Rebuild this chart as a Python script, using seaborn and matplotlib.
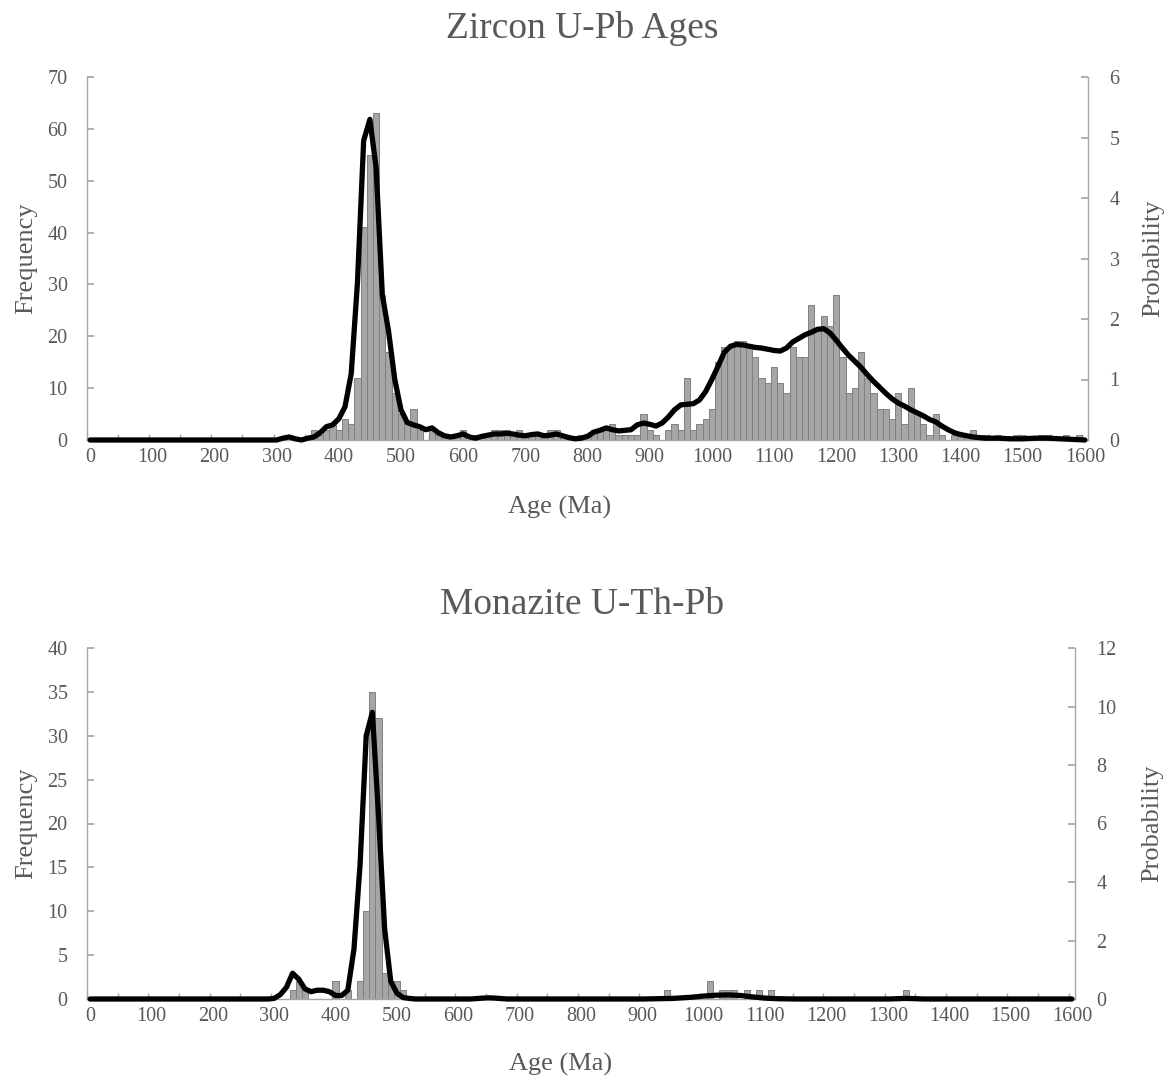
import numpy as np
import pandas as pd
import matplotlib
matplotlib.use("Agg")
import matplotlib.pyplot as plt
import seaborn as sns

# ---------------- data ----------------
# Zircon U-Pb: histogram counts per 10 Ma bin (bin centre ages)
zircon_bin_age = [360, 370, 380, 390, 400, 410, 420, 430, 440, 450, 460, 470, 480, 490, 500,
                  510, 520, 530, 550, 560, 570, 580, 590, 600, 620, 630, 640, 650, 660, 670,
                  680, 690, 700, 710, 720, 730, 740, 750, 760, 790, 800, 810, 820, 830, 840,
                  850, 860, 870, 880, 890, 900, 910, 930, 940, 950, 960, 970, 980, 990, 1000,
                  1010, 1020, 1030, 1040, 1050, 1060, 1070, 1080, 1090, 1100, 1110, 1120, 1130,
                  1140, 1150, 1160, 1170, 1180, 1190, 1200, 1210, 1220, 1230, 1240, 1250, 1260,
                  1270, 1280, 1290, 1300, 1310, 1320, 1330, 1340, 1350, 1360, 1370, 1390, 1400,
                  1410, 1420, 1440, 1460, 1490, 1500, 1530, 1540, 1570, 1590]
zircon_count = [2, 1, 2, 3, 2, 4, 3, 12, 41, 55, 63, 28, 17, 9, 5,
                3, 6, 2, 2, 1, 1, 1, 1, 2, 1, 1, 1, 2, 2, 2,
                1, 2, 1, 1, 1, 1, 2, 2, 1, 1, 1, 2, 2, 2, 3,
                1, 1, 1, 1, 5, 2, 1, 2, 3, 2, 12, 2, 3, 4, 6,
                15, 18, 18, 19, 19, 18, 16, 12, 11, 14, 11, 9, 18,
                16, 16, 26, 21, 24, 22, 28, 16, 9, 10, 17, 12, 9,
                6, 6, 4, 9, 3, 10, 5, 3, 1, 5, 1, 1, 1,
                1, 2, 1, 1, 1, 1, 1, 1, 1, 1]

# Zircon probability density curve
zircon_curve_age = [0, 290, 300, 310, 320, 330, 340, 350, 360, 370, 380, 390, 400, 410, 420,
                    430, 440, 450, 460, 470, 480, 490, 500, 510, 520, 530, 540, 550, 560, 570,
                    580, 590, 600, 610, 620, 630, 640, 650, 660, 670, 680, 690, 700, 710, 720,
                    730, 740, 750, 760, 770, 780, 790, 800, 810, 820, 830, 840, 850, 860, 870,
                    880, 890, 900, 910, 920, 930, 940, 950, 960, 970, 980, 990, 1000, 1010,
                    1020, 1030, 1040, 1050, 1060, 1070, 1080, 1090, 1100, 1110, 1120, 1130,
                    1140, 1150, 1160, 1170, 1180, 1190, 1200, 1210, 1220, 1230, 1240, 1250,
                    1260, 1270, 1280, 1290, 1300, 1310, 1320, 1330, 1340, 1350, 1360, 1370,
                    1380, 1390, 1400, 1410, 1420, 1430, 1440, 1460, 1480, 1500, 1520, 1540,
                    1560, 1580, 1600]
zircon_prob = [0.0, 0.0, 0.0, 0.03, 0.05, 0.02, 0.0, 0.03, 0.05, 0.12, 0.22, 0.25, 0.35, 0.55, 1.1,
               2.6, 4.95, 5.3, 4.5, 2.4, 1.8, 1.0, 0.5, 0.29, 0.25, 0.22, 0.17, 0.2, 0.12, 0.07,
               0.05, 0.07, 0.1, 0.05, 0.03, 0.06, 0.08, 0.1, 0.1, 0.11, 0.1, 0.08, 0.07, 0.09, 0.1,
               0.07, 0.08, 0.1, 0.07, 0.04, 0.02, 0.03, 0.06, 0.13, 0.16, 0.2, 0.17, 0.15, 0.16, 0.17,
               0.25, 0.28, 0.26, 0.23, 0.28, 0.38, 0.5, 0.58, 0.59, 0.6, 0.66, 0.8, 1.0, 1.22,
               1.45, 1.55, 1.58, 1.57, 1.55, 1.53, 1.52, 1.5, 1.48, 1.47, 1.52, 1.62,
               1.68, 1.74, 1.78, 1.83, 1.84, 1.77, 1.65, 1.52, 1.4, 1.3, 1.2, 1.08,
               0.97, 0.87, 0.77, 0.68, 0.61, 0.56, 0.5, 0.45, 0.4, 0.34, 0.3, 0.23,
               0.17, 0.12, 0.09, 0.07, 0.05, 0.04, 0.03, 0.03, 0.02, 0.02, 0.03, 0.03,
               0.02, 0.01, 0.0]

# Monazite U-Th-Pb: histogram counts per 10 Ma bin
monazite_bin_age = [330, 340, 350, 400, 420, 440, 450, 460, 470, 480, 490, 500, 510,
                    940, 1010, 1030, 1040, 1050, 1070, 1090, 1110, 1330]
monazite_count = [1, 2, 1, 2, 1, 2, 10, 35, 32, 3, 2, 2, 1,
                  1, 2, 1, 1, 1, 1, 1, 1, 1]

# Monazite probability density curve
monazite_curve_age = [0, 290, 300, 310, 320, 330, 340, 350, 360, 370, 380, 390, 400, 410, 420,
                      430, 440, 450, 460, 470, 480, 490, 500, 510, 520, 530, 620, 640, 650, 660,
                      680, 900, 950, 980, 1000, 1020, 1040, 1060, 1080, 1100, 1120, 1150, 1300,
                      1330, 1360, 1600]
monazite_prob = [0.0, 0.0, 0.02, 0.15, 0.4, 0.88, 0.68, 0.35, 0.25, 0.3, 0.3, 0.25, 0.12, 0.12, 0.3,
                 1.7, 4.6, 9.0, 9.8, 6.3, 2.4, 0.6, 0.2, 0.05, 0.02, 0.0, 0.0, 0.03, 0.04, 0.03,
                 0.0, 0.0, 0.02, 0.06, 0.1, 0.13, 0.14, 0.12, 0.07, 0.03, 0.01, 0.0, 0.0,
                 0.02, 0.0, 0.0]

age_ticks = list(range(0, 1601, 100))

# ---------------- style ----------------
sns.set_theme(style="white")
plt.rcParams["font.family"] = ["Liberation Serif", "DejaVu Serif"]
TXT = "#595959"
BAR = "#A6A6A6"
EDGE = "#808080"
AXC = "#A6A6A6"
TICKFS = 14.5

W, H = 1165, 1082
fig = plt.figure(figsize=(W / 100, H / 100), dpi=100)


def panel(rect, ages, counts, cx, cy, ymax, ystep, pmax, pstep, title, title_y,
          xlab_x, plab_x):
    ax = fig.add_axes(rect)
    hist_df = pd.DataFrame({"age": ages, "count": counts})
    sns.histplot(data=hist_df, x="age", weights="count", binwidth=10,
                 binrange=(-5, 1605), ax=ax, color=BAR,
                 edgecolor=EDGE, linewidth=0.7, alpha=1.0)
    ax.set_xlim(-5, 1605)
    ax.set_ylim(0, ymax)
    ax.set_yticks(range(0, ymax + 1, ystep))
    ax.set_xticks(age_ticks)
    ax.set_xticks(np.arange(-5, 1606, 50), minor=True)
    ax.tick_params(axis="x", which="major", length=0, labelsize=TICKFS, labelcolor=TXT, pad=6)
    ax.tick_params(axis="x", which="minor", length=4, direction="in", color=AXC, width=1,
                   bottom=True)
    ax.tick_params(axis="y", length=5, direction="in", color=AXC, labelsize=TICKFS,
                   labelcolor=TXT, pad=14, left=True)
    ax.set_xlabel("Age (Ma)", fontsize=19, color=TXT)
    ax.set_ylabel("Frequency", fontsize=19, color=TXT)
    ax.xaxis.set_label_coords(xlab_x, -0.155)
    ax.yaxis.set_label_coords(-0.05, 0.5)
    for s in ["top", "right"]:
        ax.spines[s].set_visible(False)
    for s in ["left", "bottom"]:
        ax.spines[s].set_color(AXC)
        ax.spines[s].set_linewidth(1)

    ax2 = ax.twinx()
    curve_df = pd.DataFrame({"age": cx, "prob": cy})
    sns.lineplot(data=curve_df, x="age", y="prob", ax=ax2, color="black", linewidth=3.8,
                 estimator=None, sort=False, clip_on=False)
    ax2.set_ylim(0, pmax)
    pt = list(range(0, pmax + 1, pstep))
    ax2.set_yticks(pt)
    ax2.set_yticklabels([str(v) for v in pt])
    ax2.tick_params(axis="y", length=5, direction="in", color=AXC, labelsize=TICKFS,
                    labelcolor=TXT, pad=15.5, right=True)
    ax2.set_ylabel("Probability", fontsize=19, color=TXT)
    ax2.yaxis.set_label_position("right")
    ax2.yaxis.set_label_coords(plab_x, 0.5)
    for s in ["top", "left", "bottom"]:
        ax2.spines[s].set_visible(False)
    ax2.spines["right"].set_color(AXC)
    ax2.spines["right"].set_linewidth(1)
    ax2.set_xlim(-5, 1605)

    fig.text(0.5, 1 - title_y / H, title, ha="center", va="center",
             fontsize=27, color=TXT)
    return ax, ax2


panel([87 / W, 1 - 440 / H, (1088 - 87) / W, (440 - 77) / H],
      zircon_bin_age, zircon_count, zircon_curve_age, zircon_prob,
      70, 10, 6, 1, "Zircon U-Pb Ages", 28, 0.4725, 1.054)
panel([87 / W, 1 - 999 / H, (1075 - 87) / W, (999 - 648) / H],
      monazite_bin_age, monazite_count, monazite_curve_age, monazite_prob,
      40, 5, 12, 2, "Monazite U-Th-Pb", 605, 0.479, 1.067)

fig.savefig("out.png", dpi=100)
